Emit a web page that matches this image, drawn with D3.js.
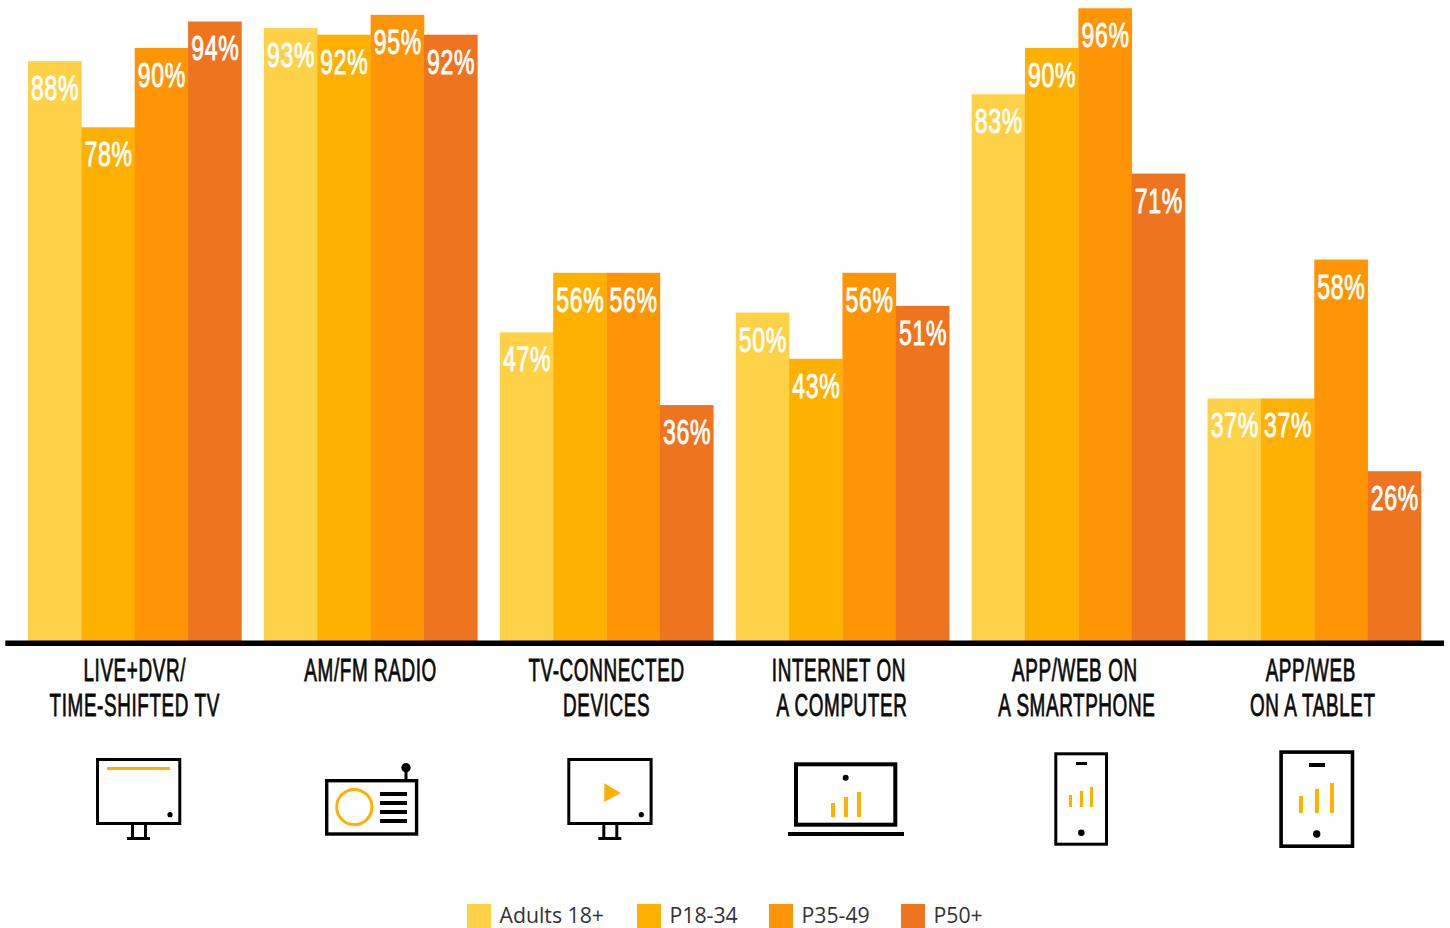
<!DOCTYPE html>
<html>
<head>
<meta charset="utf-8">
<script src="https://cdn.jsdelivr.net/npm/d3@7"></script>
<style>
  html, body { margin: 0; padding: 0; background: #fff; overflow: hidden; }
  .val { font-family: "Liberation Sans Narrow", "Liberation Sans", sans-serif; fill: #fff; stroke: #fff; stroke-width: 0.9px; letter-spacing: 1px; text-anchor: middle; }
  .cat { font-family: "Liberation Sans Narrow", "Liberation Sans", sans-serif; fill: #0a0a0a; stroke: #0a0a0a; stroke-width: 0.8px; letter-spacing: 1px; text-anchor: middle; }
  .leg { font-family: "Open Sans", sans-serif; font-size: 21.25px; fill: #333; }
</style>
</head>
<body>
<div id="chart"></div>
<script>
var categories = [
    ["LIVE+DVR/", "TIME-SHIFTED TV"],
    ["AM/FM RADIO"],
    ["TV-CONNECTED", "DEVICES"],
    ["INTERNET ON", "A COMPUTER"],
    ["APP/WEB ON", "A SMARTPHONE"],
    ["APP/WEB", "ON A TABLET"]
];
var seriesNames = ["Adults 18+", "P18-34", "P35-49", "P50+"];
var adults = [88, 93, 47, 50, 83, 37];
var p1834 = [78, 92, 56, 43, 90, 37];
var p3549 = [90, 95, 56, 56, 96, 58];
var p50 = [94, 92, 36, 51, 71, 26];
var seriesValues = [adults, p1834, p3549, p50];
var colors = ["#ffd147", "#ffb000", "#ff9505", "#ee7420"];

var width = 1450, height = 928;
var accent = "#ffb000";

var svg = d3.select("#chart").append("svg")
    .attr("width", width)
    .attr("height", height)
    .style("display", "block");

// set the ranges
var x = d3.scaleBand()
    .domain(d3.range(categories.length))
    .range([28, 1421])
    .paddingInner(22.5 / 236);

var xInner = d3.scaleBand()
    .domain(d3.range(seriesNames.length))
    .range([0, x.bandwidth()]);

var y = d3.scaleLinear()
    .domain([0, 100])
    .range([643.2, -18.2]);

// bars
var groups = svg.selectAll(".group")
    .data(categories)
    .enter().append("g")
    .attr("class", "group")
    .attr("transform", function(d, i) { return "translate(" + x(i) + ",0)"; });

groups.each(function(d, c) {
    var g = d3.select(this);
    seriesValues.forEach(function(values, s) {
        g.append("rect")
            .attr("x", xInner(s))
            .attr("y", y(values[c]))
            .attr("width", xInner.bandwidth() + 0.3)
            .attr("height", y(0) - y(values[c]))
            .attr("fill", colors[s]);
    });
    seriesValues.forEach(function(values, s) {
        g.append("text")
            .attr("class", "val")
            .attr("font-size", 35)
            .attr("transform", "translate(" + (xInner(s) + xInner.bandwidth() / 2 + 0.5) + "," + (y(values[c]) + 39) + ") scale(0.66,1)")
            .text(values[c] + "%");
    });
});

// axis line
svg.append("line")
    .attr("x1", 5.3).attr("x2", 1444)
    .attr("y1", y(0)).attr("y2", y(0))
    .attr("stroke", "#000")
    .attr("stroke-width", 5.4);

// category labels
var labelNudge = [[0, 0], [0, 0], [0, 0], [-3.5, -0.5], [-3.5, -1.5], [-3.5, -1.5]];
categories.forEach(function(lines, c) {
    lines.forEach(function(line, l) {
        svg.append("text")
            .attr("class", "cat")
            .attr("font-size", 31.5)
            .attr("transform", "translate(" + (x(c) + x.bandwidth() / 2 + labelNudge[c][l]) + "," + (681 + l * 35) + ") scale(0.6,1)")
            .text(line);
    });
});

// icons
var ic = svg.append("g");

function box(x0, y0, x1, y1, sw) {
    ic.append("rect")
        .attr("x", x0 + sw / 2).attr("y", y0 + sw / 2)
        .attr("width", x1 - x0 - sw).attr("height", y1 - y0 - sw)
        .attr("fill", "none").attr("stroke", "#000").attr("stroke-width", sw);
}
function block(x0, y0, x1, y1, col) {
    ic.append("rect")
        .attr("x", x0).attr("y", y0)
        .attr("width", x1 - x0).attr("height", y1 - y0)
        .attr("fill", col || "#000");
}
function dot(cx, cy, r) {
    ic.append("circle").attr("cx", cx).attr("cy", cy).attr("r", r).attr("fill", "#000");
}
function monitor(x0) {
    box(x0, 758, x0 + 85.3, 825, 3);
    block(x0 + 35, 825, x0 + 38, 838);
    block(x0 + 48, 825, x0 + 51, 838);
    block(x0 + 31, 837, x0 + 54, 840);
    dot(x0 + 74, 814.7, 2.6);
}

// live + dvr
monitor(96);
block(107, 767, 170, 770, accent);

// radio
box(325, 779, 418.3, 835.7, 3.4);
ic.append("circle").attr("cx", 354.3).attr("cy", 807).attr("r", 17.6)
    .attr("fill", "none").attr("stroke", accent).attr("stroke-width", 3);
[792, 801, 810, 819].forEach(function(t) { block(380, t, 407, t + 4); });
block(404.5, 768, 407.5, 780);
dot(406, 767.7, 4.7);

// tv connected
monitor(567.3);
ic.append("path").attr("d", "M604.3,783.3 L620.7,793 L604.3,802 Z").attr("fill", accent);

// laptop
box(794, 762.3, 897.3, 826.7, 4);
block(788, 832, 904, 836);
dot(845.7, 777.7, 3);
block(831, 803, 835, 817, accent);
block(844, 797, 848, 817, accent);
block(857, 792, 861, 817, accent);

// phone
box(1054.3, 752.3, 1108, 845.7, 3);
block(1076, 762, 1087, 765);
dot(1081.3, 832.7, 3.3);
block(1069, 795, 1072, 807, accent);
block(1080, 791, 1083, 807, accent);
block(1090, 787, 1093, 807, accent);

// tablet
box(1279.3, 750.3, 1354.3, 848, 3.6);
block(1309, 763, 1325, 767);
dot(1316.7, 834, 3.7);
block(1299, 796, 1303, 813, accent);
block(1315, 789, 1319, 813, accent);
block(1330, 783, 1334, 813, accent);

// legend
var legendX = [467, 637, 769, 901];
seriesNames.forEach(function(name, i) {
    svg.append("rect")
        .attr("x", legendX[i]).attr("y", 904)
        .attr("width", 24).attr("height", 24)
        .attr("fill", colors[i]);
    svg.append("text")
        .attr("class", "leg")
        .attr("x", legendX[i] + 32.5)
        .attr("y", 923)
        .text(name);
});
</script>
</body>
</html>
